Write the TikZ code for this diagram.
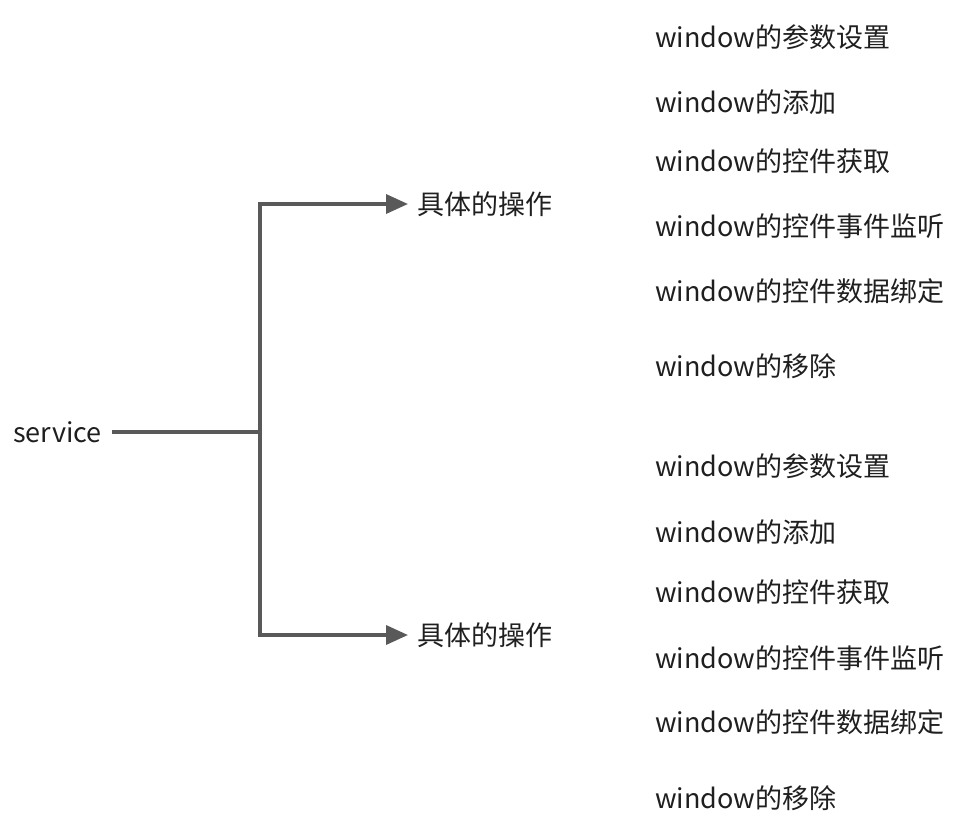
\documentclass[tikz,border=0pt]{standalone}
\usepackage{fontspec}
\setmainfont{Noto Sans CJK SC}
\usetikzlibrary{arrows.meta}
\definecolor{linegray}{HTML}{595959}
\definecolor{txt}{HTML}{1F1F1F}
\tikzset{
  lbl/.style={anchor=west, inner sep=0pt, text=txt, font=\fontsize{27}{30}\selectfont},
  conn/.style={draw=linegray, line width=3.5pt},
  arr/.style={conn, -{Triangle[length=22pt,width=19pt]}, shorten >=9pt}
}
\begin{document}
\begin{tikzpicture}[x=1pt,y=-1pt]
\useasboundingbox (0,0) rectangle (963,836);
\node[lbl] (svc) at (13,432) {service};
\node[lbl] (op1) at (417,204) {具体的操作};
\node[lbl] (op2) at (417,635) {具体的操作};
\coordinate (j) at (260,432);
\draw[conn, shorten <=10pt] (svc.east) -- (j);
\draw[arr] (j) |- (op1.west);
\draw[arr] (j) |- (op2.west);
\node[lbl] (a1) at (655,37) {window的参数设置};
\node[lbl] (a2) at (655,102) {window的添加};
\node[lbl] (a3) at (655,161) {window的控件获取};
\node[lbl] (a4) at (655,226) {window的控件事件监听};
\node[lbl] (a5) at (655,291) {window的控件数据绑定};
\node[lbl] (a6) at (655,366) {window的移除};
\node[lbl] (b1) at (655,466) {window的参数设置};
\node[lbl] (b2) at (655,532) {window的添加};
\node[lbl] (b3) at (655,592) {window的控件获取};
\node[lbl] (b4) at (655,658) {window的控件事件监听};
\node[lbl] (b5) at (655,722) {window的控件数据绑定};
\node[lbl] (b6) at (655,798) {window的移除};
\end{tikzpicture}
\end{document}
